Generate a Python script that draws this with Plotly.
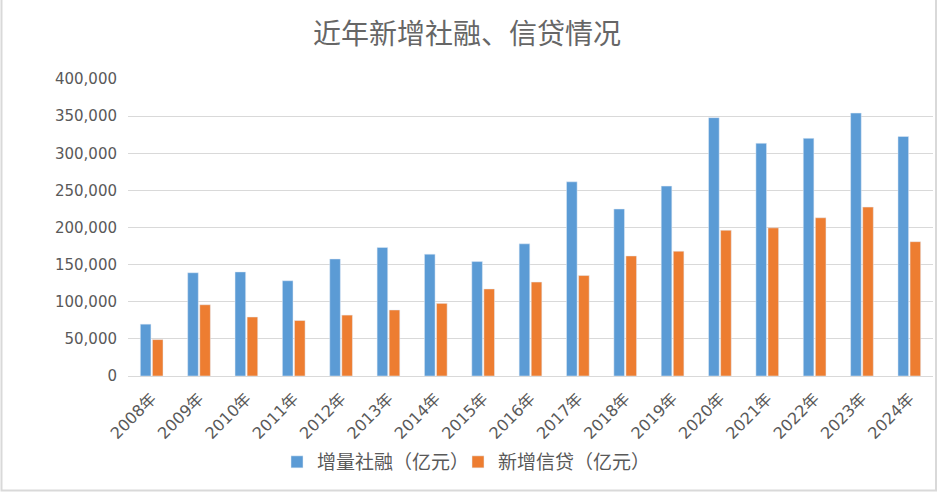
import plotly.graph_objects as go

years = ["2008年", "2009年", "2010年", "2011年", "2012年", "2013年", "2014年", "2015年", "2016年",
         "2017年", "2018年", "2019年", "2020年", "2021年", "2022年", "2023年", "2024年"]
social_financing = [69802, 139104, 140191, 128286, 157631, 173169, 164133, 154086, 178022,
                    261536, 224920, 255753, 347917, 313408, 320101, 354111, 322600]
new_loans = [49041, 95940, 79451, 74715, 82038, 88917, 97813, 117245, 126500,
             135300, 161700, 168100, 196300, 199500, 213100, 227500, 180900]
series_names = ["增量社融（亿元）", "新增信贷（亿元）"]
y_ticks = [0, 50000, 100000, 150000, 200000, 250000, 300000, 350000, 400000]
y_tick_text = ["0", "50,000", "100,000", "150,000", "200,000", "250,000", "300,000", "350,000", "400,000"]

W, H = 938, 493
ml, mr, mt, mb = 128, 5, 79, 117
pw, ph = W - ml - mr, H - mt - mb

FONT = "DejaVu Sans, Noto Sans CJK SC"
CJK = "Noto Sans CJK SC"
GRAY = "#595959"

fig = go.Figure()
fig.add_trace(go.Bar(x=years, y=social_financing, name=series_names[0], marker_color="#5B9BD5"))
fig.add_trace(go.Bar(x=years, y=new_loans, name=series_names[1], marker_color="#ED7D31"))

def px_x(p):
    return (p - ml) / pw

def px_y(p):
    return (H - mb - p) / ph

fig.add_shape(type="rect", xref="paper", yref="paper",
              x0=px_x(1.5), x1=px_x(936), y0=px_y(490.5), y1=px_y(-3),
              line=dict(color="#d9d9d9", width=2), fillcolor="rgba(0,0,0,0)", layer="below")

fig.update_layout(
    width=W, height=H,
    margin=dict(l=ml, r=mr, t=mt, b=mb, autoexpand=False),
    paper_bgcolor="white", plot_bgcolor="white",
    barmode="group", bargap=0.49, bargroupgap=0.12,
    font=dict(family=FONT, color=GRAY),
    title=dict(text="近年新增社融、信贷情况", x=467 / W, xref="container", xanchor="center",
               y=1 - 34 / H, yanchor="middle", yref="container",
               font=dict(size=28, color="#666666", family=CJK)),
    xaxis=dict(tickangle=-45, tickfont=dict(size=16, color=GRAY, family=FONT),
               showgrid=False, showline=True, linecolor="#d9d9d9", linewidth=1,
               ticks="", ticklen=0, automargin=False, ticklabelstandoff=6),
    yaxis=dict(range=[0, 400000], tickvals=y_ticks, ticktext=y_tick_text,
               tickfont=dict(size=15, color=GRAY, family=FONT),
               showgrid=True, gridcolor="#d9d9d9", gridwidth=1,
               zeroline=False, showline=False, ticks="", ticklabelstandoff=10,
               automargin=False),
    legend=dict(orientation="h", x=px_x(458), xanchor="center", y=px_y(462), yanchor="middle",
                font=dict(size=19, color=GRAY, family=CJK), traceorder="normal",
                itemwidth=30, entrywidth=136, bgcolor="rgba(0,0,0,0)"),
    showlegend=True,
)

fig.write_html("out.html", config={"displayModeBar": False},
               post_script="document.body.style.margin='0';document.body.style.padding='0';")
